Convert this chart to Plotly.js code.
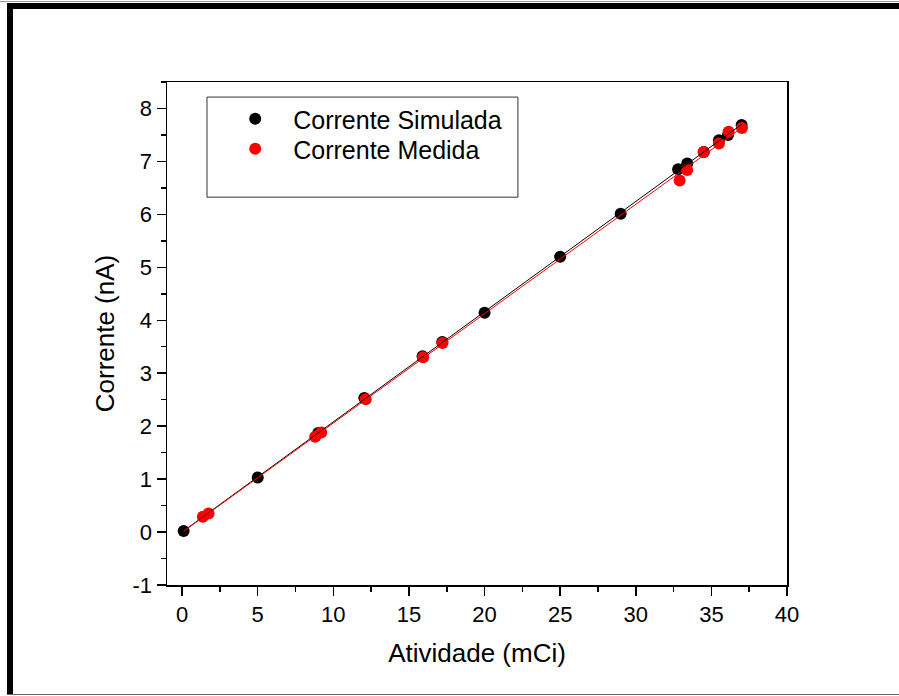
<!DOCTYPE html>
<html>
<head>
<meta charset="utf-8">
<script src="https://cdn.plot.ly/plotly-3.0.1.min.js"></script>
<style>
  html, body { margin: 0; padding: 0; background: #fff; }
  #wrap { position: relative; width: 899px; height: 696px; }
  #chart { position: absolute; left: 0; top: 0; width: 899px; height: 696px; }
  .edge { position: absolute; pointer-events: none; }
</style>
</head>
<body>
<div id="wrap">
  <div id="chart"></div>
  <!-- page frame around the figure -->
  <div class="edge" style="left:0;top:1px;width:899px;height:1px;background:#9a9a9a;"></div>
  <div class="edge" style="left:7px;top:3px;width:892px;height:6px;background:#000;"></div>
  <div class="edge" style="left:7px;top:3px;width:6px;height:692px;background:#000;"></div>
  <div class="edge" style="left:7px;top:694px;width:892px;height:1px;background:#666;"></div>
</div>
<script>
// Simulated current vs. source activity
const simActivity = [0.1, 5.0, 9.0, 12.05, 15.9, 17.2, 20.0, 25.0, 29.0, 32.8, 33.4, 34.5, 35.5, 36.1, 37.0];
const simCurrent  = [0.02, 1.03, 1.87, 2.53, 3.32, 3.59, 4.14, 5.20, 6.01, 6.85, 6.96, 7.18, 7.40, 7.50, 7.69];

// Measured current vs. source activity
const measActivity = [1.37, 1.75, 8.8, 9.2, 12.14, 15.94, 17.22, 32.9, 33.4, 34.48, 35.5, 36.14, 37.02];
const measCurrent  = [0.29, 0.35, 1.80, 1.88, 2.51, 3.30, 3.57, 6.64, 6.84, 7.18, 7.34, 7.56, 7.63];

const xTicks = [0, 5, 10, 15, 20, 25, 30, 35, 40];
const yTicks = [-1, 0, 1, 2, 3, 4, 5, 6, 7, 8];

// least-squares straight line through a series
function linearFit(xs, ys) {
  const n = xs.length;
  let sx = 0, sy = 0, sxx = 0, sxy = 0;
  for (let i = 0; i < n; i++) { sx += xs[i]; sy += ys[i]; sxx += xs[i] * xs[i]; sxy += xs[i] * ys[i]; }
  const b = (n * sxy - sx * sy) / (n * sxx - sx * sx);
  const a = (sy - b * sx) / n;
  return { a, b };
}

const xStart = Math.min(...simActivity);
const xEnd = Math.max(...simActivity, ...measActivity);
const fitSim = linearFit(simActivity, simCurrent);
const fitMeas = linearFit(measActivity, measCurrent);
const fitX = [xStart, xEnd];

const FONT = 'Liberation Sans, Arial, Helvetica, sans-serif';

const traces = [
  {
    x: simActivity, y: simCurrent, type: 'scatter', mode: 'markers',
    name: 'Corrente Simulada', legend: 'legend',
    marker: { color: '#000000', size: 12 }
  },
  {
    x: measActivity, y: measCurrent, type: 'scatter', mode: 'markers',
    name: 'Corrente Medida', legend: 'legend2',
    marker: { color: '#ff0000', size: 12 }
  },
  {
    x: fitX, y: fitX.map(v => fitSim.a + fitSim.b * v), type: 'scatter', mode: 'lines',
    showlegend: false, hoverinfo: 'skip',
    line: { color: '#000000', width: 1 }
  },
  {
    x: fitX, y: fitX.map(v => fitMeas.a + fitMeas.b * v), type: 'scatter', mode: 'lines',
    showlegend: false, hoverinfo: 'skip',
    line: { color: '#ff0000', width: 1 }
  }
];

const axisCommon = {
  showgrid: false, zeroline: false,
  showline: true, linecolor: '#000', linewidth: 1.5, mirror: true,
  ticks: 'outside', ticklen: 9, tickwidth: 1.5, tickcolor: '#000',
  tickfont: { family: FONT, size: 22, color: '#000' },
  minor: { ticks: 'outside', ticklen: 5, tickwidth: 1.5, tickcolor: '#000' }
};

const legendCommon = {
  xanchor: 'left', yanchor: 'top',
  bgcolor: 'rgba(0,0,0,0)', borderwidth: 0,
  itemwidth: 66, tracegroupgap: 0,
  font: { family: FONT, size: 25, color: '#000' }
};

const layout = {
  width: 899, height: 696,
  margin: { l: 167, r: 112, t: 82, b: 111 },
  paper_bgcolor: '#ffffff', plot_bgcolor: '#ffffff',
  font: { family: FONT, color: '#000' },
  showlegend: true,
  legend: Object.assign({}, legendCommon, { x: 0.081, y: 0.972 }),
  legend2: Object.assign({}, legendCommon, { x: 0.081, y: 0.9125 }),
  xaxis: Object.assign({}, axisCommon, {
    range: [-1, 40], tickvals: xTicks, ticktext: xTicks.map(String),
    minor: Object.assign({}, axisCommon.minor, { dtick: 2.5, tick0: 0 }),
    title: { text: 'Atividade (mCi)', font: { family: FONT, size: 26, color: '#000' }, standoff: 18 }
  }),
  yaxis: Object.assign({}, axisCommon, {
    range: [-1, 8.5], tickvals: yTicks, ticktext: yTicks.map(String),
    minor: Object.assign({}, axisCommon.minor, { dtick: 0.5, tick0: 0 }),
    title: { text: 'Corrente (nA)', font: { family: FONT, size: 26, color: '#000' }, standoff: 10 }
  }),
  shapes: [
    // legend frame
    { type: 'rect', xref: 'paper', yref: 'paper',
      x0: 0.0645, x1: 0.566, y0: 0.771, y1: 0.970,
      line: { color: '#333333', width: 1 }, fillcolor: 'rgba(0,0,0,0)', layer: 'above' }
  ]
};

Plotly.newPlot('chart', traces, layout, { displayModeBar: false, staticPlot: true });
</script>
</body>
</html>
